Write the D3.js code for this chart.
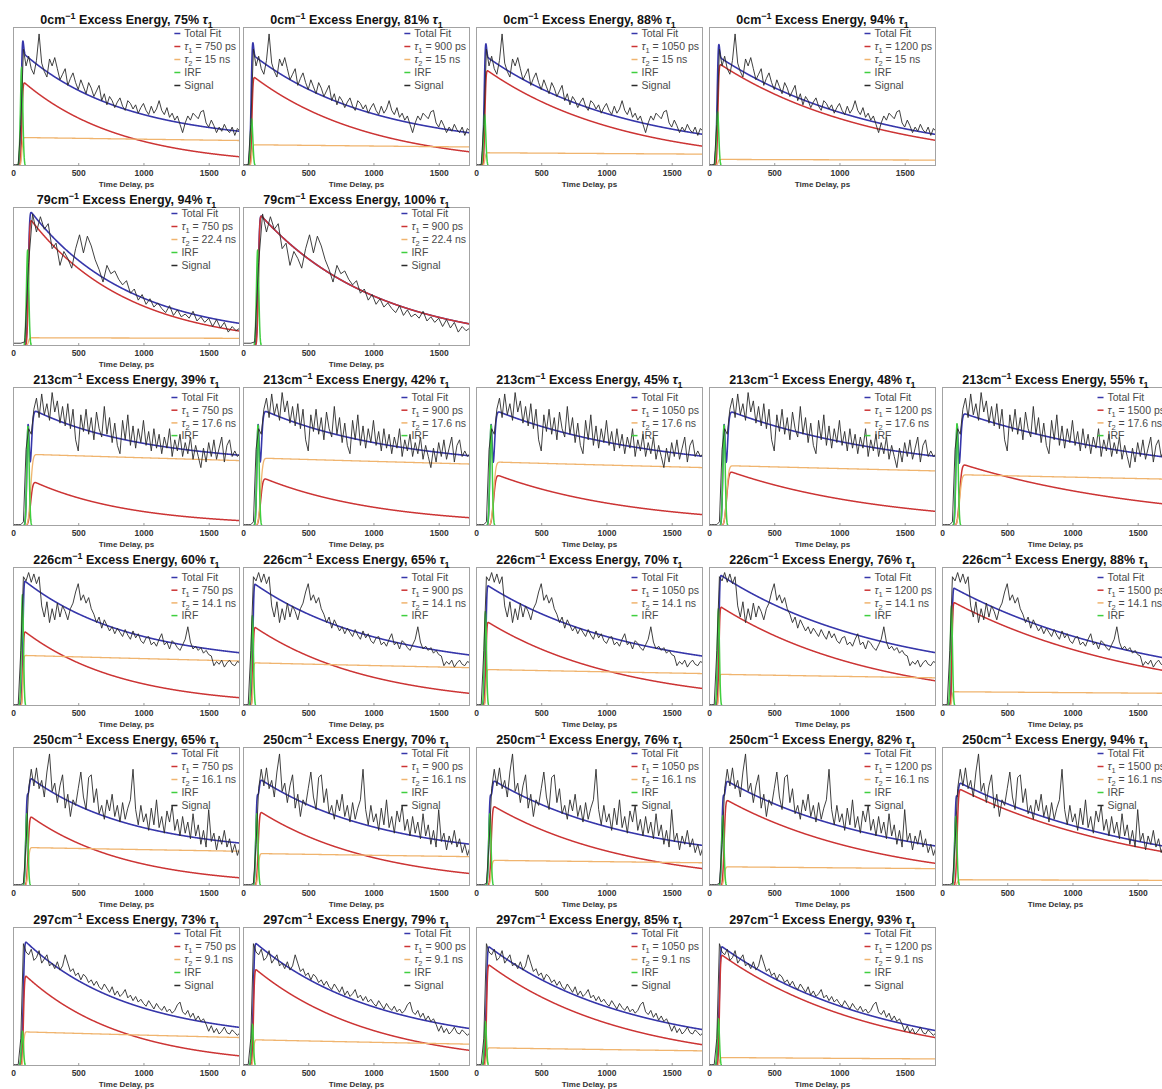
<!DOCTYPE html>
<html>
<head>
<meta charset="utf-8">
<script src="https://cdn.jsdelivr.net/npm/d3@7"></script>
<style>
  body { margin: 0; background: #fff; }
  svg { display: block; font-family: "Liberation Sans", Arial, Helvetica, sans-serif; }
</style>
</head>
<body>
<svg id="chart" width="1162" height="1089"></svg>
<script>
// ---------- data ----------
const T_MAX = 1740;                 // ps, right end of the time axis
const xTicks = [0, 500, 1000, 1500];

// one row per excess energy
const energies = ["0", "79", "213", "226", "250", "297"];
const tau2Ns = [15, 22.4, 17.6, 14.1, 16.1, 9.1];
const hasSignalKey = [true, true, false, false, true, true];

// instrument response and rise timing of each row (ps)
const irfCenter = [66, 112, 115, 72, 106, 72];
const irfSigma  = [9, 9, 9, 8, 9, 8];
const riseCenter = [68, 118, 135, 76, 116, 80];
const riseWidth  = [7, 8, 14, 6, 9, 7];

// per panel: share of tau1 (%), tau1 (ps), total amplitude, IRF height, scatter term of the total fit
const pct = [
  [75, 81, 88, 94],
  [94, 100],
  [39, 42, 45, 48, 55],
  [60, 65, 70, 76, 88],
  [65, 70, 76, 82, 94],
  [73, 79, 85, 93]
];
const tau1Ps = [
  [750, 900, 1050, 1200],
  [750, 900],
  [750, 900, 1050, 1200, 1500],
  [750, 900, 1050, 1200, 1500],
  [750, 900, 1050, 1200, 1500],
  [750, 900, 1050, 1200]
];
const amp = [
  [0.82, 0.805, 0.795, 0.79],
  [0.99, 0.96],
  [0.845, 0.842, 0.837, 0.835, 0.82],
  [0.91, 0.887, 0.875, 0.95, 0.856],
  [0.79, 0.778, 0.77, 0.767, 0.752],
  [0.91, 0.898, 0.872, 0.872]
];
const irfHeight = [
  [0.71, 0.34, 0.37, 0.39],
  [0.69, 0.69],
  [0.72, 0.73, 0.73, 0.73, 0.74],
  [0.80, 0.65, 0.68, 0.70, 0.72],
  [0.52, 0.52, 0.52, 0.505, 0.50],
  [0.25, 0.30, 0.32, 0.34]
];
const scatter = [
  [0.35, 0.35, 0.35, 0.35],
  [0.08, 0.08],
  [0.66, 0.66, 0.66, 0.66, 0.66],
  [0.05, 0.05, 0.05, 0.05, 0.05],
  [0.50, 0.50, 0.50, 0.50, 0.50],
  [0.15, 0.15, 0.15, 0.15]
];

// measured signal of each row (% of full scale), evenly spaced over 0..T_MAX
const signal0 = [1,1,1,30,84,72,79,70,66,76,95,74,68,64,77,72,78,70,62,66,70,58,63,67,60,55,62,57,52,60,
  56,50,54,58,47,52,44,50,47,42,46,49,43,40,47,45,41,44,38,42,45,40,37,43,38,41,47,40,37,42,
  35,38,33,36,30,24,31,36,33,38,36,34,39,40,31,28,33,29,24,28,25,30,26,24,28,22,27,25];
const signal79 = [2,2,2,3,60,95,82,93,84,88,70,74,58,68,63,56,70,80,67,79,72,62,55,46,58,52,54,48,44,47,
  38,41,33,37,30,34,28,31,27,24,29,22,26,21,23,20,25,18,21,17,20,14,19,13,17,10,14,11,13];
const signal213 = [1,1,1,1,3,55,70,66,84,92,78,95,80,88,76,96,82,90,74,86,72,88,70,84,62,54,80,68,84,66,
  78,62,82,70,64,86,66,78,60,74,58,52,76,62,80,58,72,56,70,60,76,58,68,54,70,56,66,52,64,56,
  70,50,62,54,66,50,60,52,64,48,58,50,42,56,46,60,50,62,48,56,64,46,58,62,50,54,50,52];
const signal226 = [1,1,1,40,93,90,96,89,95,88,93,72,64,75,60,70,62,74,64,72,68,62,70,74,82,88,76,80,74,78,
  70,66,60,64,56,62,58,54,57,52,56,53,50,55,51,48,54,49,52,47,45,49,50,44,46,43,48,52,44,46,
  41,47,45,42,40,44,48,57,46,41,43,40,42,38,40,37,36,29,32,30,33,28,31,33,30,29,32,31];
const signal250 = [1,1,1,1,2,30,70,84,72,85,70,76,64,82,95,68,74,60,72,80,56,66,50,62,58,70,82,64,55,78,
  80,60,70,52,58,48,62,54,66,50,58,46,60,48,56,62,84,55,44,58,46,52,40,56,44,62,42,50,38,54,
  46,58,40,48,36,50,38,46,34,52,36,44,30,40,28,55,32,38,26,36,30,40,28,34,24,30,22,28];
const signal297 = [1,1,1,20,88,82,80,84,76,78,83,74,77,80,72,74,70,75,69,72,80,74,68,70,65,67,62,66,64,60,
  62,58,61,57,55,59,56,53,57,51,54,50,52,55,49,51,47,50,46,48,45,43,47,44,41,45,42,40,43,39,
  41,38,40,44,46,39,37,40,35,38,33,36,32,34,30,25,29,24,27,23,25,28,24,23,26,24,22,24];
const signals = [signal0, signal79, signal213, signal226, signal250, signal297];

// ---------- layout ----------
const colLeft = [13, 243, 476, 709, 942];
const rowTop = [27, 207, 387, 567, 747, 927];
const BOX_W = 227, BOX_H = 139;

const COLORS = {
  fit: "#3636aa",
  tau1: "#cc3434",
  tau2: "#f0b46e",
  irf: "#3fcf3f",
  signal: "#2b2b2b"
};

// ---------- model helpers ----------
function erf(x) {
  const s = Math.sign(x); x = Math.abs(x);
  const t = 1 / (1 + 0.3275911 * x);
  const y = 1 - (((((1.061405429 * t - 1.453152027) * t) + 1.421413741) * t - 0.284496736) * t + 0.254829592) * t * Math.exp(-x * x);
  return s * y;
}
const phi = z => 0.5 * (1 + erf(z / Math.SQRT2));

const tGrid = d3.range(0, T_MAX + 0.001, 2);

// ---------- text with sub/superscripts ----------
function richText(sel, parts, size) {
  let shift = 0;
  parts.forEach(([txt, kind]) => {
    const ts = sel.append("tspan").text(txt);
    let target = 0;
    if (kind === "sup") { target = -size * 0.4; ts.attr("font-size", size * 0.72); }
    if (kind === "sub") { target = size * 0.28; ts.attr("font-size", size * 0.72); }
    if (kind === "it") ts.attr("font-style", "italic");
    if (target - shift !== 0) ts.attr("dy", target - shift);
    shift = target;
  });
}

const svg = d3.select("#chart");
const defs = svg.append("defs");

energies.forEach((E, r) => {
  pct[r].forEach((p, c) => {
    const left = colLeft[c], top = rowTop[r];
    const x = d3.scaleLinear().domain([0, T_MAX]).range([left, left + BOX_W]);
    const y = d3.scaleLinear().domain([0, 1]).range([top + BOX_H, top]);

    const clipId = `clip-${r}-${c}`;
    defs.append("clipPath").attr("id", clipId)
      .append("rect").attr("x", left).attr("y", top).attr("width", BOX_W).attr("height", BOX_H);

    const g = svg.append("g");

    // fit components
    const A = amp[r][c];
    const a1 = A * p / 100, a2 = A * (1 - p / 100);
    const tR = riseCenter[r], wR = riseWidth[r];
    const tI = irfCenter[r], sI = irfSigma[r];
    const t1 = tau1Ps[r][c], t2 = tau2Ns[r] * 1000;
    const rise = t => phi((t - tR) / wR);
    const comp1 = t => a1 * rise(t) * Math.exp(-(t - tR) / t1);
    const comp2 = t => a2 * rise(t) * Math.exp(-(t - tR) / t2);
    const gauss = t => Math.exp(-0.5 * ((t - tI) / sI) ** 2);
    const irf = t => irfHeight[r][c] * gauss(t);
    const total = t => comp1(t) + comp2(t) + scatter[r][c] * gauss(t);

    const line = f => d3.line().x(t => x(t)).y(t => y(f(t)))(tGrid);

    const plot = g.append("g").attr("clip-path", `url(#${clipId})`)
      .attr("fill", "none").attr("stroke-linejoin", "round");

    plot.append("path").attr("d", line(total)).attr("stroke", COLORS.fit).attr("stroke-width", 1.6);
    plot.append("path").attr("d", line(comp1)).attr("stroke", COLORS.tau1).attr("stroke-width", 1.5);
    plot.append("path").attr("d", line(comp2)).attr("stroke", COLORS.tau2).attr("stroke-width", 1.3);
    plot.append("path").attr("d", line(irf)).attr("stroke", COLORS.irf).attr("stroke-width", 1.5);

    const sig = signals[r];
    const step = T_MAX / (sig.length - 1);
    plot.append("path")
      .attr("d", d3.line().x((v, i) => x(i * step)).y(v => y(v / 100))(sig))
      .attr("stroke", COLORS.signal).attr("stroke-width", 0.9);

    // frame
    g.append("rect")
      .attr("x", left + 0.5).attr("y", top + 0.5)
      .attr("width", BOX_W - 1).attr("height", BOX_H - 1)
      .attr("fill", "none").attr("stroke", "#a3a3a3").attr("stroke-width", 1)
      .attr("shape-rendering", "crispEdges");

    // bottom axis
    const ax = g.append("g").attr("transform", `translate(0,${top + BOX_H})`)
      .call(d3.axisBottom(x).tickValues(xTicks).tickFormat(d3.format("d"))
        .tickSizeInner(-3).tickSizeOuter(0).tickPadding(4));
    ax.select(".domain").remove();
    ax.selectAll(".tick line").attr("stroke", "#9a9a9a");
    ax.selectAll(".tick text")
      .attr("font-size", 8.5).attr("font-weight", "bold").attr("fill", "#333")
      .attr("font-family", "Liberation Sans, Arial, sans-serif");

    g.append("text")
      .attr("x", left + BOX_W / 2).attr("y", top + BOX_H + 21)
      .attr("text-anchor", "middle").attr("font-size", 8).attr("font-weight", "bold").attr("fill", "#333")
      .text("Time Delay, ps");

    // title
    const title = g.append("text")
      .attr("x", left + BOX_W / 2).attr("y", top - 3)
      .attr("text-anchor", "middle").attr("font-size", 12.5).attr("font-weight", "bold").attr("fill", "#111");
    richText(title, [[`${E}cm`, ""], ["\u22121", "sup"], [` Excess Energy, ${p}% `, ""], ["\u03c4", "it"], ["1", "sub"]], 12.5);

    // legend
    const entries = [
      { color: COLORS.fit, parts: [["Total Fit", ""]] },
      { color: COLORS.tau1, parts: [["\u03c4", "it"], ["1", "sub"], [` = ${t1} ps`, ""]] },
      { color: COLORS.tau2, parts: [["\u03c4", "it"], ["2", "sub"], [` = ${tau2Ns[r]} ns`, ""]] },
      { color: COLORS.irf, parts: [["IRF", ""]] }
    ];
    if (hasSignalKey[r]) entries.push({ color: COLORS.signal, parts: [["Signal", ""]] });
    const first = entries.length === 5 ? 6.5 : 10.5;
    const gap = entries.length === 5 ? 13 : 12.7;
    const lg = g.append("g");
    let maxW = 0;
    entries.forEach((e, i) => {
      const cy = first + i * gap;
      lg.append("line").attr("x1", -10).attr("x2", -4).attr("y1", cy).attr("y2", cy)
        .attr("stroke", e.color).attr("stroke-width", 1.5);
      const tx = lg.append("text").attr("x", 0).attr("y", cy + 3.8)
        .attr("font-size", 10.5).attr("fill", "#4a4a4a");
      richText(tx, e.parts, 10.5);
      maxW = Math.max(maxW, tx.node().getBBox().width);
    });
    lg.attr("transform", `translate(${left + BOX_W - 4 - maxW},${top})`);
  });
});
</script>
</body>
</html>
